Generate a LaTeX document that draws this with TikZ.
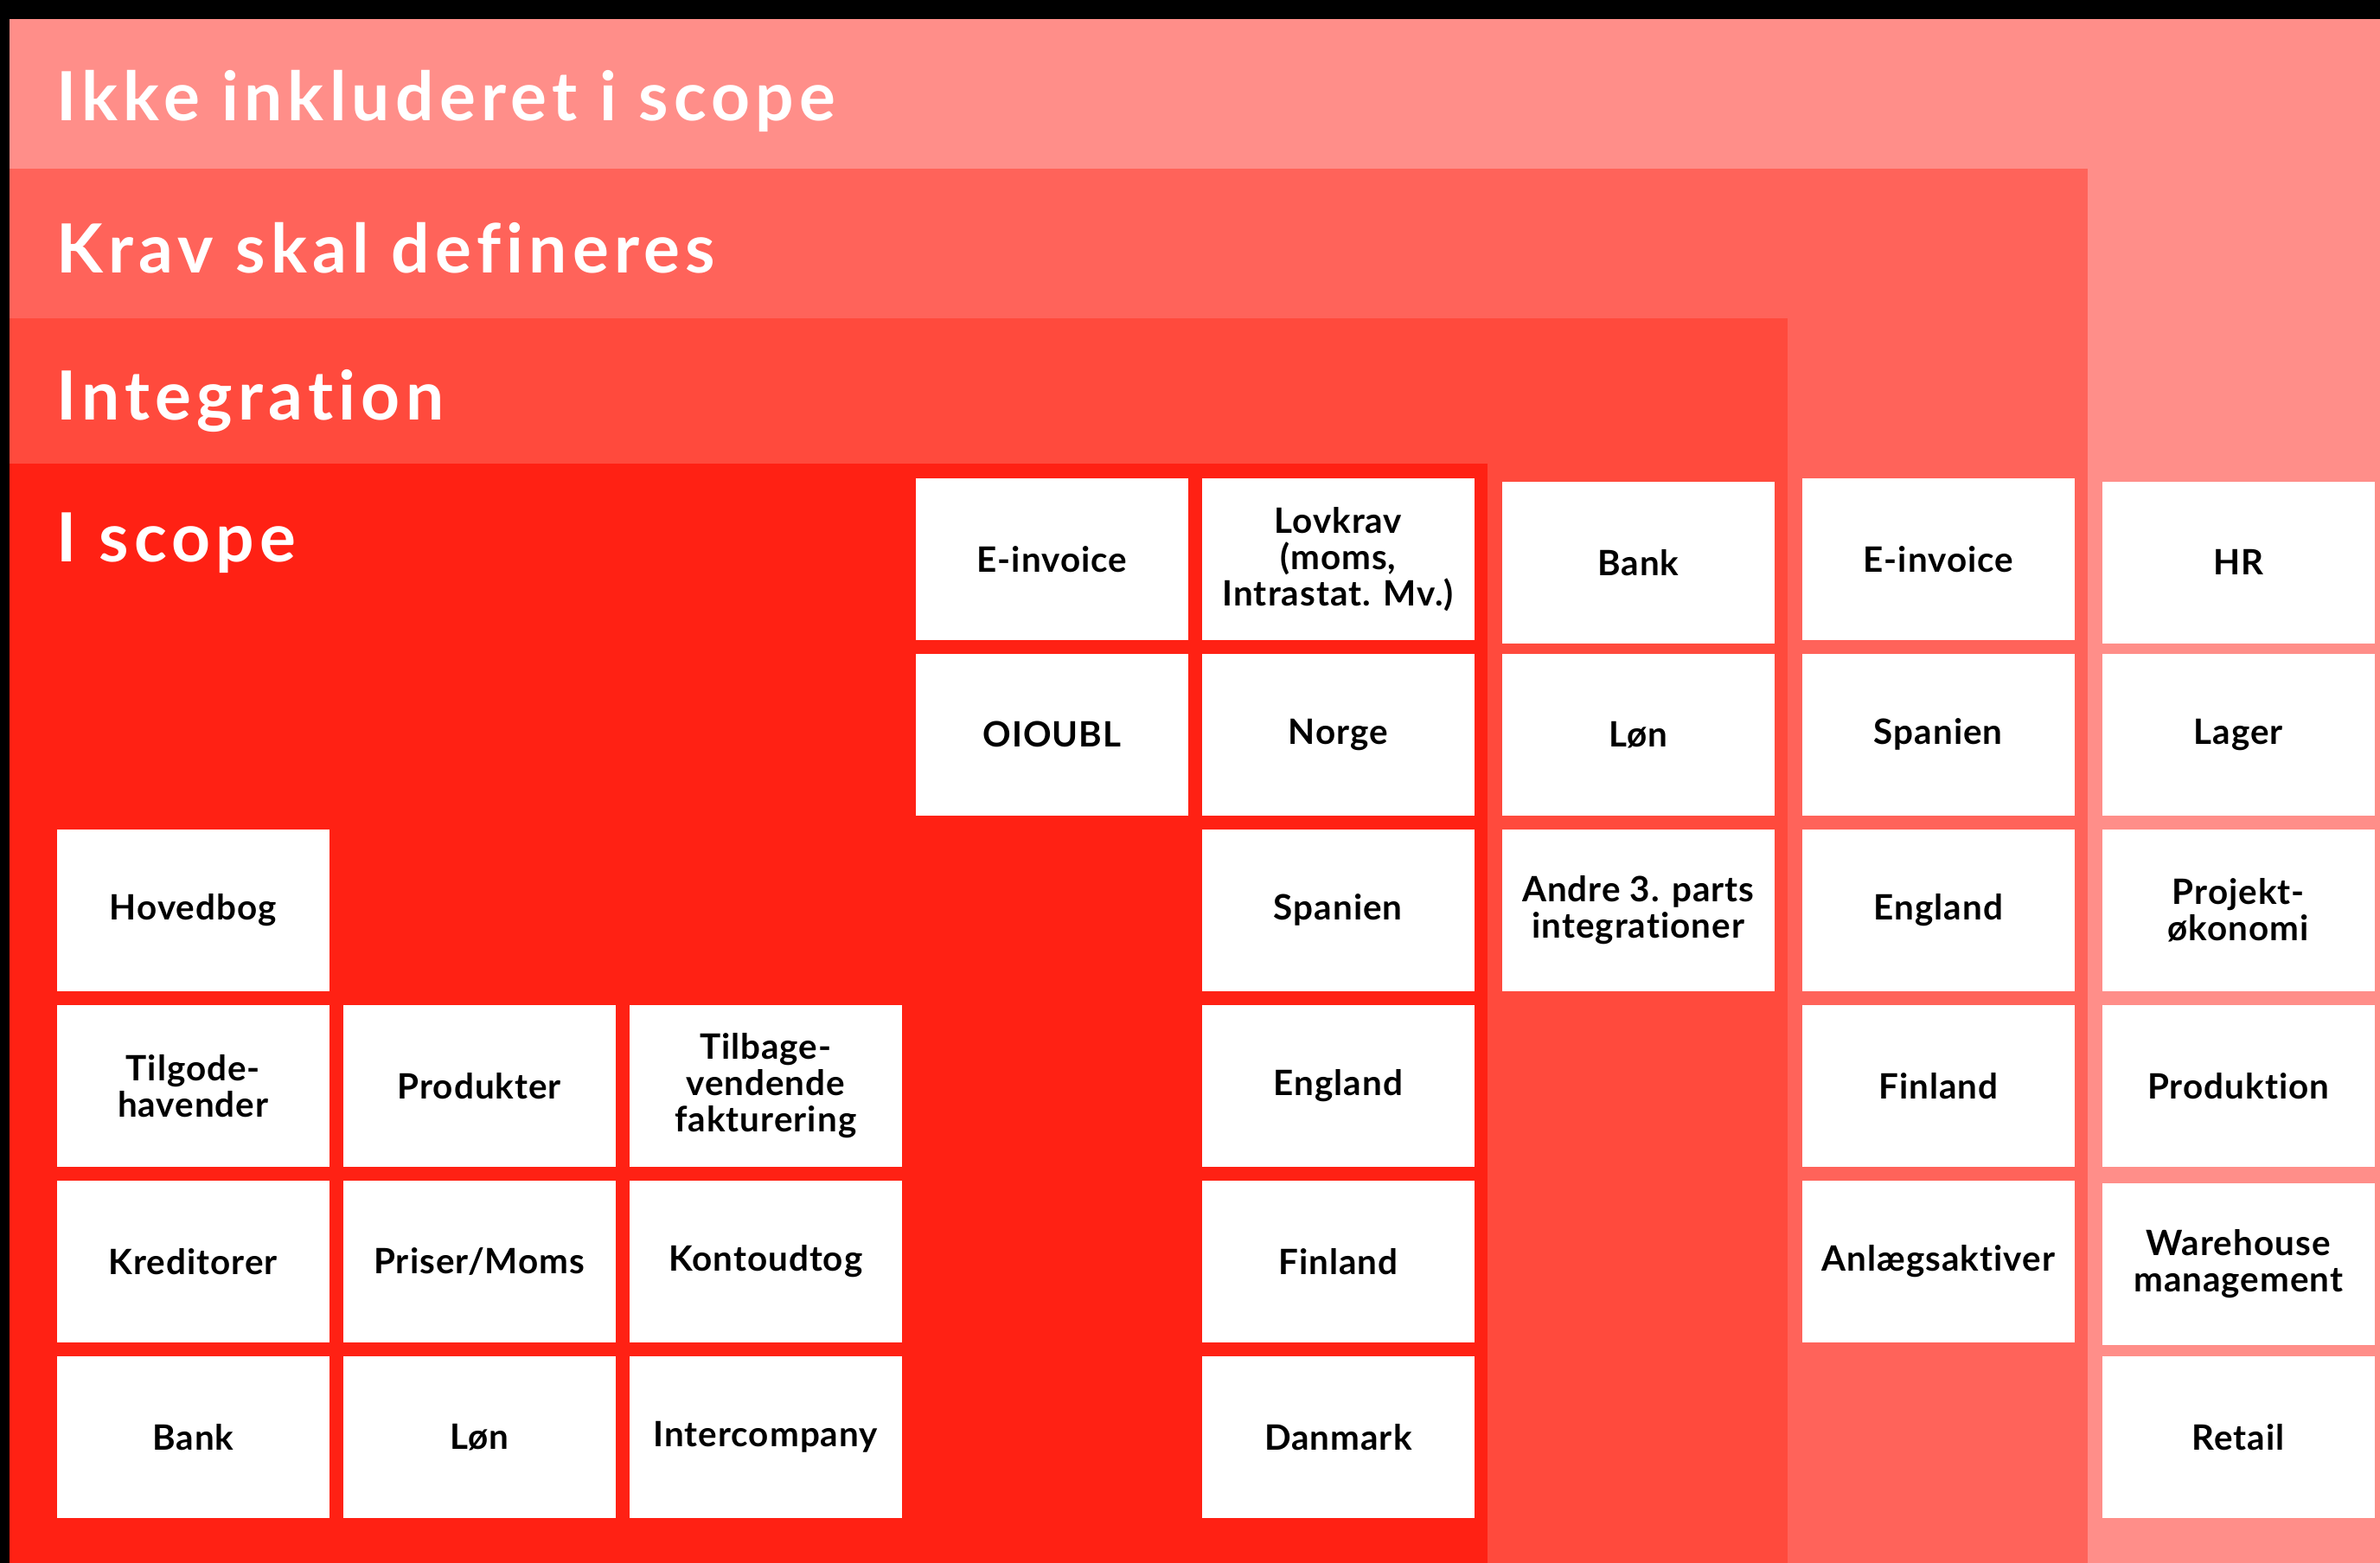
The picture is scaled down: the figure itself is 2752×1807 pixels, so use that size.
\documentclass[tikz,border=0pt]{standalone}
\usepackage{fontspec}
\setmainfont{Lato}[Ligatures={NoCommon}]
\newfontfamily\titlefont{Lato}[Ligatures={NoCommon},LetterSpace=8]
\newfontfamily\cellfont{Lato}[Ligatures={NoCommon},LetterSpace=2.5]
\definecolor{bandA}{RGB}{255,142,137}
\definecolor{bandB}{RGB}{255,99,90}
\definecolor{bandC}{RGB}{255,74,61}
\definecolor{bandD}{RGB}{255,33,20}
\tikzset{
  bandtitle/.style={anchor=base west, inner sep=0pt, text=white, font=\titlefont\fontsize{19.6}{20}\selectfont\bfseries},
  cell/.style={anchor=north west, fill=white, draw=none, inner sep=2pt,
    minimum width=78.75pt, minimum height=46.75pt, align=center,
    font=\cellfont\fontsize{10.1}{10.5}\selectfont\bfseries, text=black}
}
\begin{document}
\begin{tikzpicture}[x=0.25pt,y=-0.25pt]
\useasboundingbox (0,0) rectangle (2752,1807);
\fill[black] (0,0) rectangle (2752,1807);
% bands
\fill[bandA] (11,22) rectangle (2752,1807);
\fill[bandB] (11,195) rectangle (2414,1807);
\fill[bandC] (11,368) rectangle (2067,1807);
\fill[bandD] (11,536) rectangle (1720,1807);
% titles
\node[bandtitle] (tA) at (65,140) {Ikke inkluderet i scope};
\node[bandtitle] (tB) at (65,316) {Krav skal defineres};
\node[bandtitle] (tC) at (65,486) {Integration};
\node[bandtitle] (tD) at (65,649) {I scope};
% column 1
\node[cell] (c1r3) at (65,958) {Hovedbog};
\node[cell] (c1r4) at (65,1161) {Tilgode-\\havender};
\node[cell] (c1r5) at (65,1364) {Kreditorer};
\node[cell] (c1r6) at (65,1567) {Bank};
% column 2
\node[cell] (c2r4) at (396,1161) {Produkter};
\node[cell] (c2r5) at (396,1364) {Priser/Moms};
\node[cell] (c2r6) at (396,1567) {Løn};
% column 3
\node[cell] (c3r4) at (727,1161) {Tilbage-\\vendende\\fakturering};
\node[cell] (c3r5) at (727,1364) {Kontoudtog};
\node[cell] (c3r6) at (727,1567) {Intercompany};
% column 4
\node[cell] (c4r1) at (1058,552) {E-invoice};
\node[cell] (c4r2) at (1058,755) {OIOUBL};
% column 5
\node[cell] (c5r1) at (1389,552) {Lovkrav\\(moms,\\Intrastat. Mv.)};
\node[cell] (c5r2) at (1389,755) {Norge};
\node[cell] (c5r3) at (1389,958) {Spanien};
\node[cell] (c5r4) at (1389,1161) {England};
\node[cell] (c5r5) at (1389,1364) {Finland};
\node[cell] (c5r6) at (1389,1567) {Danmark};
% column 6
\node[cell] (c6r1) at (1736,556) {Bank};
\node[cell] (c6r2) at (1736,755) {Løn};
\node[cell] (c6r3) at (1736,958) {Andre 3. parts\\integrationer};
% column 7
\node[cell] (c7r1) at (2083,552) {E-invoice};
\node[cell] (c7r2) at (2083,755) {Spanien};
\node[cell] (c7r3) at (2083,958) {England};
\node[cell] (c7r4) at (2083,1161) {Finland};
\node[cell] (c7r5) at (2083,1364) {Anlægsaktiver};
% column 8
\node[cell] (c8r1) at (2430,556) {HR};
\node[cell] (c8r2) at (2430,755) {Lager};
\node[cell] (c8r3) at (2430,958) {Projekt-\\økonomi};
\node[cell] (c8r4) at (2430,1161) {Produktion};
\node[cell] (c8r5) at (2430,1367) {Warehouse\\management};
\node[cell] (c8r6) at (2430,1567) {Retail};
\end{tikzpicture}
\end{document}
